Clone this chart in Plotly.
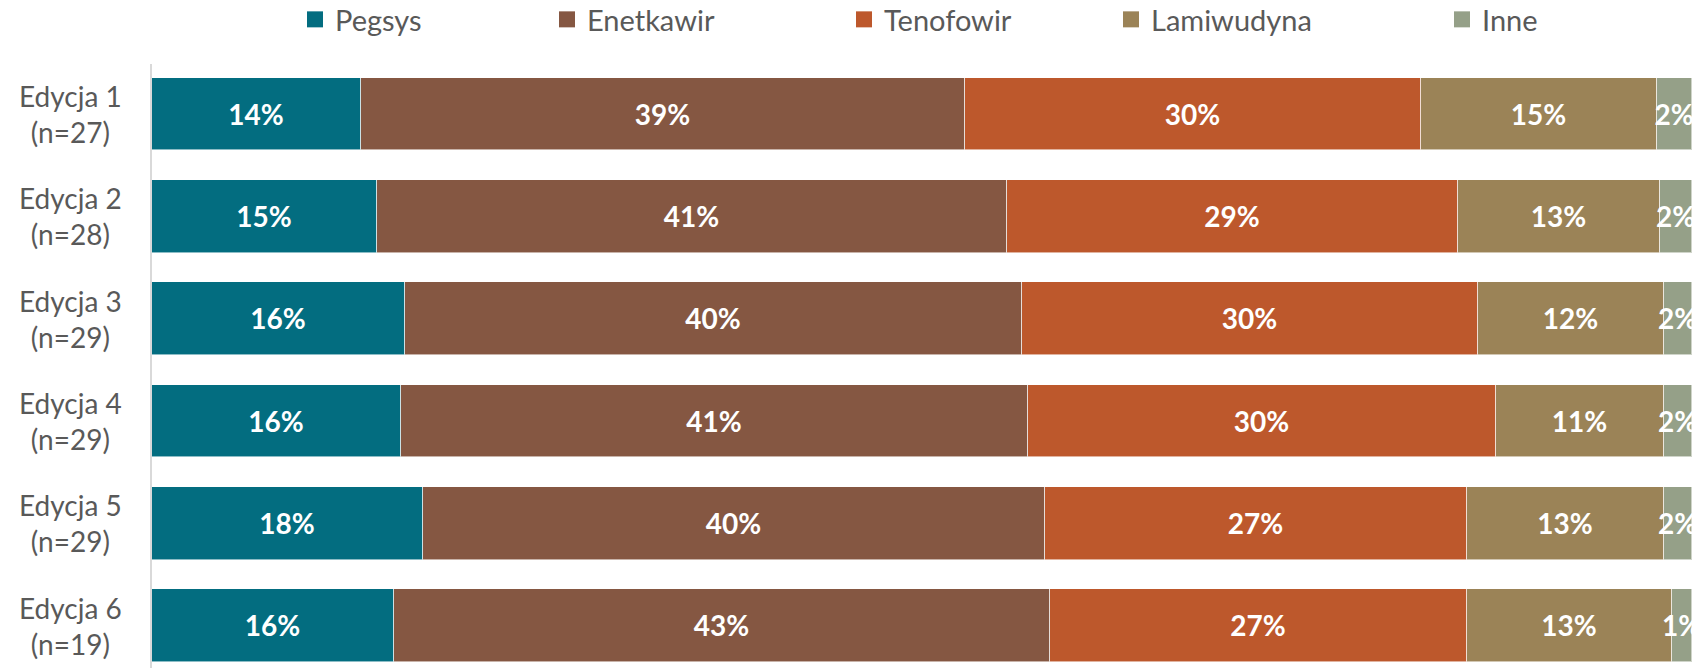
import plotly.graph_objects as go

categories = ["Edycja 1<br>(n=27)", "Edycja 2<br>(n=28)", "Edycja 3<br>(n=29)",
              "Edycja 4<br>(n=29)", "Edycja 5<br>(n=29)", "Edycja 6<br>(n=19)"]
series_names = ["Pegsys", "Enetkawir", "Tenofowir", "Lamiwudyna", "Inne"]
pegsys = [13.6, 14.6, 16.4, 16.2, 17.6, 15.7]
enetkawir = [39.2, 40.9, 40.1, 40.7, 40.4, 42.6]
tenofowir = [29.6, 29.3, 29.6, 30.4, 27.4, 27.1]
lamiwudyna = [15.3, 13.1, 12.1, 10.9, 12.8, 13.3]
inne = [2.3, 2.1, 1.8, 1.8, 1.8, 1.3]
colors = ["#036d80", "#855742", "#bd582c", "#9b8357", "#95a088"]

values = [pegsys, enetkawir, tenofowir, lamiwudyna, inne]

W, H = 1699, 668
L, R, T, B = 152, 7, 64, 0
plot_w = W - L - R

# pixel centres of legend symbols in the original layout
legend_sym_px = [320, 572, 869, 1136, 1467]

fig = go.Figure()
for name, vals, col in zip(series_names, values, colors):
    fig.add_trace(go.Bar(
        y=list(range(len(categories))), x=vals, name=name, orientation="h",
        marker=dict(color=col, line=dict(color="rgba(255,255,255,0.55)", width=1)),
        width=0.71,
        texttemplate="%{x:.0f}%", textposition="inside", insidetextanchor="middle",
        textangle=0,
        textfont=dict(family="Lato", size=28, color="white", weight="bold"),
        hoverinfo="skip", showlegend=False,
    ))

# legend entries (one legend per entry so they can be spaced like the original)
legend_layout = {}
for k, (name, col, px) in enumerate(zip(series_names, colors, legend_sym_px)):
    key = "legend" if k == 0 else f"legend{k + 1}"
    fig.add_trace(go.Scatter(
        x=[None], y=[None], mode="markers", name=name,
        marker=dict(symbol="square", size=16, color=col),
        legend=key, showlegend=True, hoverinfo="skip",
    ))
    legend_layout[key] = dict(
        x=(px - 25) / W, xref="container", xanchor="left",
        y=1 - 19.5 / H, yref="container", yanchor="middle",
        orientation="h", font=dict(family="Lato", size=29, color="#595959"),
        bgcolor="rgba(0,0,0,0)", itemclick=False, itemdoubleclick=False,
    )

# category labels (centered two-line text like the original)
for i, c in enumerate(categories):
    fig.add_annotation(
        x=(70 - L) / plot_w, xref="paper", y=i, yref="y",
        text=c, showarrow=False, xanchor="center", yanchor="middle", align="center",
        font=dict(family="Lato", size=28, color="#595959"),
    )

fig.update_layout(
    width=W, height=H,
    margin=dict(l=L, r=R, t=T, b=B, pad=0),
    barmode="stack", bargap=0,
    plot_bgcolor="white", paper_bgcolor="white",
    uniformtext=dict(minsize=28, mode="show"),
    showlegend=True,
    xaxis=dict(range=[0, 100], showgrid=False, zeroline=False, showticklabels=False,
               showline=False, fixedrange=True),
    yaxis=dict(range=[5.413, -0.49], showgrid=False, zeroline=False, showticklabels=False,
               showline=True, linecolor="#d9d9d9", linewidth=2, fixedrange=True),
    **legend_layout,
)
fig.write_html("out.html")
